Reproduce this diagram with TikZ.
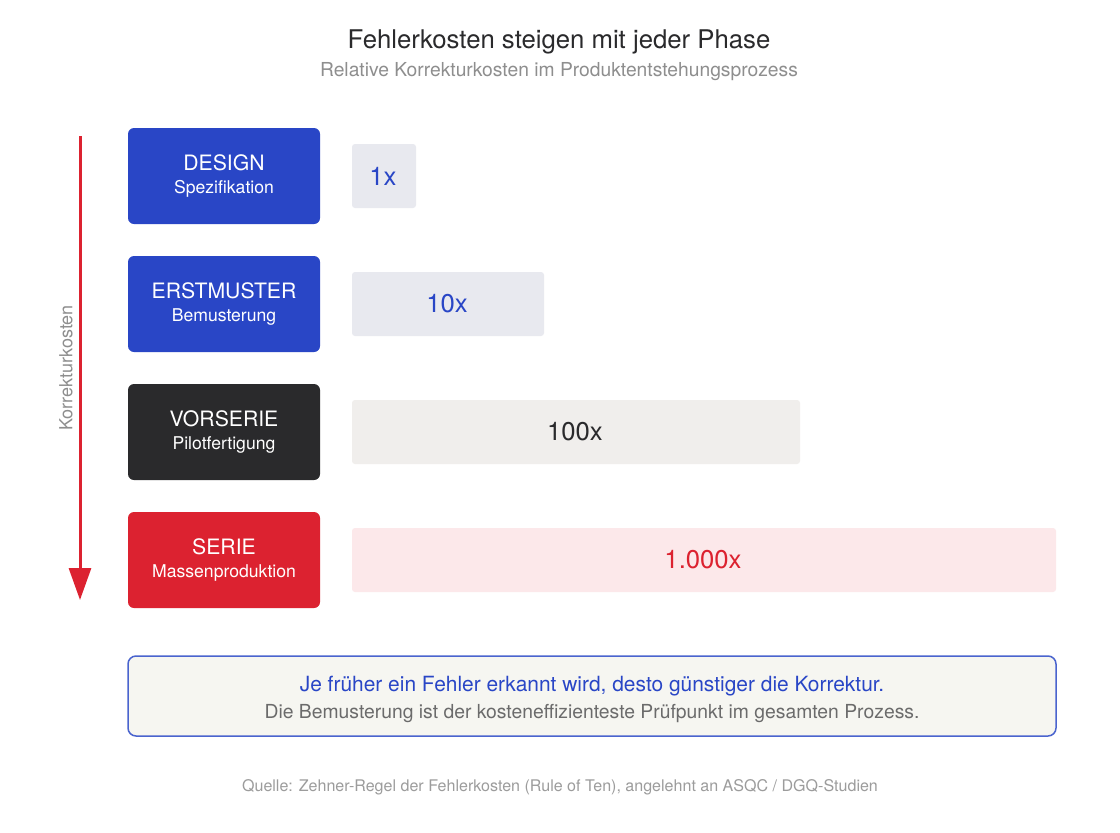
\documentclass[tikz,border=0pt]{standalone}
\usepackage{fontspec}
\setmainfont{TeX Gyre Heros}
\usetikzlibrary{arrows.meta}
\definecolor{phaseblue}{HTML}{2946C6}
\definecolor{phasedark}{HTML}{2A2A2C}
\definecolor{phasered}{HTML}{DC2230}
\definecolor{barblue}{HTML}{E8E9EF}
\definecolor{bargrey}{HTML}{F0EEEC}
\definecolor{barred}{HTML}{FCE8EA}
\definecolor{notefill}{HTML}{F6F6F1}
\definecolor{noteline}{HTML}{4A64CE}
\definecolor{titlegrey}{HTML}{8E8E8E}
\definecolor{notegrey}{HTML}{6B6B6B}
\definecolor{sourcegrey}{HTML}{9C9C9C}
\newcommand{\phasetext}[2]{{\fontsize{15.9}{17.25}\selectfont #1}\\[5.25pt]{\fontsize{13.2}{17.25}\selectfont #2}}
\tikzset{
	phasebox/.style={rectangle,rounded corners=4.5pt,minimum width=144pt,minimum height=72pt,inner sep=0pt,align=center,text=white},
	barbox/.style={rectangle,rounded corners=2.25pt,minimum height=48pt,inner sep=0pt,font=\fontsize{19.25}{21}\selectfont},
}

\begin{document}
\begin{tikzpicture}[x=0.75pt,y=-0.75pt]
		\useasboundingbox[fill=white] (0,0) rectangle (1120,832);
		\begin{scope}[every node/.style={inner sep=0pt}]
			\node[text=phasedark,font=\fontsize{19.3}{22}\selectfont] (title) at(559, 42) {Fehlerkosten steigen mit jeder Phase};
			\node[text=titlegrey,font=\fontsize{14.45}{17}\selectfont] (subtitle) at(559, 72) {Relative Korrekturkosten im Produktentstehungsprozess};
			\node[text=sourcegrey,font=\fontsize{12.04}{14}\selectfont] (source) at(560, 787) {Quelle: Zehner-Regel der Fehlerkosten (Rule of Ten), angelehnt an ASQC / DGQ-Studien};
		\end{scope}
		\begin{scope}[every node/.style={phasebox}]
			\node[fill=phaseblue] (design) at(224, 176) {\phasetext{DESIGN}{Spezifikation}};
			\node[fill=phaseblue] (erstmuster) at(224, 304) {\phasetext{ERSTMUSTER}{Bemusterung}};
			\node[fill=phasedark] (vorserie) at(224, 432) {\phasetext{VORSERIE}{Pilotfertigung}};
			\node[fill=phasered] (serie) at(224, 560) {\phasetext{SERIE}{Massenproduktion}};
		\end{scope}
		\begin{scope}[every node/.style={barbox}]
			\node[fill=barblue,text=phaseblue,minimum width=48pt] (bar1) at(384, 176) {\kern-1.5pt 1x};
			\node[fill=barblue,text=phaseblue,minimum width=144pt] (bar10) at(448, 304) {\kern-1.5pt 10x};
			\node[fill=bargrey,text=phasedark,minimum width=336pt] (bar100) at(576, 432) {\kern-1.5pt 100x};
			\node[fill=barred,text=phasered,minimum width=528pt] (bar1000) at(704, 560) {\kern-1.5pt 1.000x};
		\end{scope}
		\coordinate (top) at(80, 136);
		\coordinate (bottom) at(80, 600);
		\draw[phasered,line width=2.25pt,-{Triangle[length=24pt,width=16.5pt]}] (top) -- (bottom);
		\node[rotate=90,inner sep=0pt,text=titlegrey,font=\fontsize{13.5}{15}\selectfont] (axis) at(66, 368) {Korrekturkosten};
		\node[draw=noteline,fill=notefill,line width=1.125pt,rounded corners=6pt,minimum width=696pt,minimum height=60pt,inner sep=0pt] (note) at(592, 696) {};
		\begin{scope}[every node/.style={inner sep=0pt}]
			\node[text=phaseblue,font=\fontsize{15.7}{19}\selectfont] (noteline1) at(592, 686) {Je früher ein Fehler erkannt wird, desto günstiger die Korrektur.};
			\node[text=notegrey,font=\fontsize{14.5}{17}\selectfont] (noteline2) at(592, 714) {Die Bemusterung ist der kosteneffizienteste Prüfpunkt im gesamten Prozess.};
		\end{scope}
	\end{tikzpicture}
\end{document}
